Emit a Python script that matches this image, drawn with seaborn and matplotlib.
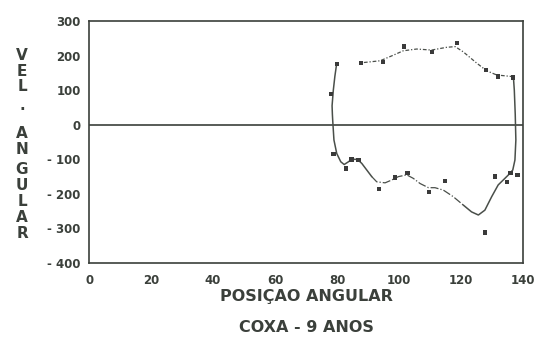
import matplotlib
matplotlib.use('Agg')
import matplotlib.pyplot as plt
import seaborn as sns

# measured points (posicao angular, velocidade angular)
pts_x = [78.0, 79.9, 87.7, 94.9, 101.7, 110.7, 118.8, 128.0, 132.0, 136.8,
         78.8, 82.9, 84.7, 86.9, 93.6, 98.7, 102.7, 109.7, 114.8, 127.7,
         131.0, 134.9, 136.0, 138.2]
pts_y = [89, 175, 179, 182, 226, 211, 237, 158, 139, 137,
         -85, -126, -100, -102, -185, -152, -139, -194, -163, -312,
         -150, -165, -139, -146]

# traced fitted loop, in pieces (line style changes along the loop)
left_x = [79.9, 79.3, 78.8, 78.4, 78.5, 78.6, 79.0, 79.9, 81.2, 82.3, 83.7,
          84.7, 86.6, 88.0, 89.6, 91.2]
left_y = [178, 140, 100, 55, 30, 13, -44, -83, -107, -115, -107,
          -100, -100, -112, -131, -150]
mid_x = [91.2, 92.8, 95.5, 97.6, 99.8, 102.5, 104.6, 106.8, 109.5, 111.6,
         114.3, 117.5, 120.7]
mid_y = [-150, -165, -168, -160, -150, -145, -155, -170, -182, -182,
         -189, -208, -232]
right_x = [120.7, 123.4, 125.6, 127.7, 129.9, 132.0, 133.6, 135.3, 136.7,
           137.4, 137.7, 137.5, 137.2, 136.9]
right_y = [-232, -252, -261, -247, -208, -174, -160, -145, -131,
           -102, -44, 30, 100, 139]
top_x = [136.9, 131.5, 128.3, 125.1, 120.7, 118.1, 115.4, 110.5, 105.7,
         101.4, 97.6, 93.9, 87.6]
top_y = [139, 144, 156, 178, 211, 226, 224, 216, 219,
         214, 199, 185, 179]

x_ticks = [0, 20, 40, 60, 80, 100, 120, 140]
y_ticks = [-400, -300, -200, -100, 0, 100, 200, 300]

ink = '#3b403b'

sns.set_style('white')
plt.rcParams['font.family'] = ['DejaVu Sans']
plt.rcParams['font.weight'] = 'bold'

fig = plt.figure(figsize=(5.4, 3.39), dpi=100)
ax = fig.add_axes([0.165, 0.224, 0.8035, 0.714])

ax.axhline(0, color=ink, lw=1.2)

line_kw = dict(sort=False, estimator=None, color='#4a4f4a', ax=ax, legend=False)
sns.lineplot(x=left_x, y=left_y, lw=1.1, **line_kw)
sns.lineplot(x=mid_x, y=mid_y, lw=0.9, linestyle='-.', **line_kw)
sns.lineplot(x=right_x, y=right_y, lw=1.1, **line_kw)
sns.lineplot(x=top_x, y=top_y, lw=0.9, linestyle=(0, (3, 1.5, 1, 1.5)), **line_kw)

sns.scatterplot(x=pts_x, y=pts_y, marker='s', s=10, color='#3a3a3a',
                edgecolor='none', ax=ax, zorder=5)

ax.set_xlim(0, 140)
ax.set_ylim(-400, 300)
ax.set_xticks(x_ticks)
ax.set_yticks(y_ticks)
ax.set_xticklabels([str(v) for v in x_ticks], fontsize=8.5, fontweight='bold', color=ink)
ax.set_yticklabels([str(v).replace('-', '- ') for v in y_ticks], fontsize=8.5,
                   fontweight='bold', color=ink)
ax.tick_params(axis='x', direction='in', length=3, width=0.8, pad=8, colors=ink)
ax.tick_params(axis='y', direction='out', length=5, width=0.9, pad=1, colors=ink)
for sp in ax.spines.values():
    sp.set_color(ink)
    sp.set_linewidth(1.2)
    sp.set_visible(True)

ax.set_xlabel('POSIÇAO ANGULAR', fontsize=11.5, fontweight='bold', color=ink, labelpad=1)
fig.text(0.567, 0.035, 'COXA - 9 ANOS', fontsize=11.5, fontweight='bold', color=ink,
         ha='center', va='center')

# stacked vertical y label
letters = ['V', 'E', 'L', '·', 'A', 'N', 'G', 'U', 'L', 'A', 'R']
ys = [55, 71, 87, 110, 133, 149, 169, 185, 201, 217, 233]
for ch, yy in zip(letters, ys):
    fig.text(22 / 540, 1 - yy / 339, ch, fontsize=11, fontweight='bold', color=ink,
             ha='center', va='center')

fig.savefig('out.png', dpi=100)
